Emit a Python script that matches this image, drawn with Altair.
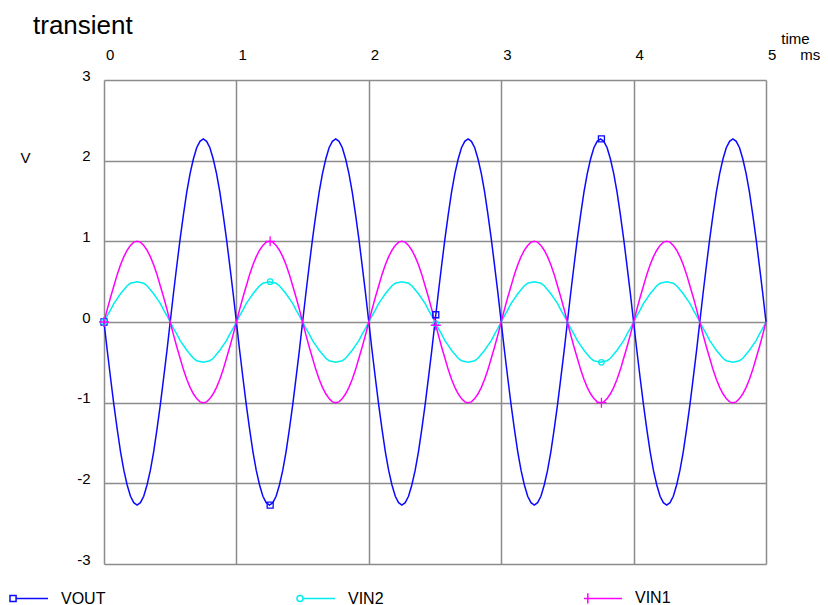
import altair as alt
import pandas as pd

FONT = "Liberation Sans"
SERIES = ["VOUT", "VIN2", "VIN1"]
COLORS = ["#0a0aff", "#00eeee", "#ff00ff"]
GRID = "#8c8c8c"

X_TICKS = [0, 1, 2, 3, 4, 5]
Y_TICKS = [-3, -2, -1, 0, 1, 2, 3]

TIME_MS = [
    0.000, 0.025, 0.050, 0.075, 0.100, 0.125, 0.150, 0.175, 0.200, 0.225, 0.250, 0.275, 0.300, 0.325, 0.350, 0.375, 0.400, 0.425, 0.450, 0.475,
    0.500, 0.525, 0.550, 0.575, 0.600, 0.625, 0.650, 0.675, 0.700, 0.725, 0.750, 0.775, 0.800, 0.825, 0.850, 0.875, 0.900, 0.925, 0.950, 0.975,
    1.000, 1.025, 1.050, 1.075, 1.100, 1.125, 1.150, 1.175, 1.200, 1.225, 1.250, 1.275, 1.300, 1.325, 1.350, 1.375, 1.400, 1.425, 1.450, 1.475,
    1.500, 1.525, 1.550, 1.575, 1.600, 1.625, 1.650, 1.675, 1.700, 1.725, 1.750, 1.775, 1.800, 1.825, 1.850, 1.875, 1.900, 1.925, 1.950, 1.975,
    2.000, 2.025, 2.050, 2.075, 2.100, 2.125, 2.150, 2.175, 2.200, 2.225, 2.250, 2.275, 2.300, 2.325, 2.350, 2.375, 2.400, 2.425, 2.450, 2.475,
    2.500, 2.525, 2.550, 2.575, 2.600, 2.625, 2.650, 2.675, 2.700, 2.725, 2.750, 2.775, 2.800, 2.825, 2.850, 2.875, 2.900, 2.925, 2.950, 2.975,
    3.000, 3.025, 3.050, 3.075, 3.100, 3.125, 3.150, 3.175, 3.200, 3.225, 3.250, 3.275, 3.300, 3.325, 3.350, 3.375, 3.400, 3.425, 3.450, 3.475,
    3.500, 3.525, 3.550, 3.575, 3.600, 3.625, 3.650, 3.675, 3.700, 3.725, 3.750, 3.775, 3.800, 3.825, 3.850, 3.875, 3.900, 3.925, 3.950, 3.975,
    4.000, 4.025, 4.050, 4.075, 4.100, 4.125, 4.150, 4.175, 4.200, 4.225, 4.250, 4.275, 4.300, 4.325, 4.350, 4.375, 4.400, 4.425, 4.450, 4.475,
    4.500, 4.525, 4.550, 4.575, 4.600, 4.625, 4.650, 4.675, 4.700, 4.725, 4.750, 4.775, 4.800, 4.825, 4.850, 4.875, 4.900, 4.925, 4.950, 4.975,
    5.000,
]

VOUT = [
    0.00, -0.36, -0.70, -1.03, -1.33, -1.61, -1.84, -2.02, -2.16, -2.24, -2.27, -2.24, -2.16, -2.02, -1.84, -1.61, -1.33, -1.03, -0.70, -0.36,
    0.00, 0.36, 0.70, 1.03, 1.33, 1.61, 1.84, 2.02, 2.16, 2.24, 2.27, 2.24, 2.16, 2.02, 1.84, 1.61, 1.33, 1.03, 0.70, 0.36,
    0.00, -0.36, -0.70, -1.03, -1.33, -1.61, -1.84, -2.02, -2.16, -2.24, -2.27, -2.24, -2.16, -2.02, -1.84, -1.61, -1.33, -1.03, -0.70, -0.36,
    0.00, 0.36, 0.70, 1.03, 1.33, 1.61, 1.84, 2.02, 2.16, 2.24, 2.27, 2.24, 2.16, 2.02, 1.84, 1.61, 1.33, 1.03, 0.70, 0.36,
    0.00, -0.36, -0.70, -1.03, -1.33, -1.61, -1.84, -2.02, -2.16, -2.24, -2.27, -2.24, -2.16, -2.02, -1.84, -1.61, -1.33, -1.03, -0.70, -0.36,
    0.00, 0.36, 0.70, 1.03, 1.33, 1.61, 1.84, 2.02, 2.16, 2.24, 2.27, 2.24, 2.16, 2.02, 1.84, 1.61, 1.33, 1.03, 0.70, 0.36,
    0.00, -0.36, -0.70, -1.03, -1.33, -1.61, -1.84, -2.02, -2.16, -2.24, -2.27, -2.24, -2.16, -2.02, -1.84, -1.61, -1.33, -1.03, -0.70, -0.36,
    0.00, 0.36, 0.70, 1.03, 1.33, 1.61, 1.84, 2.02, 2.16, 2.24, 2.27, 2.24, 2.16, 2.02, 1.84, 1.61, 1.33, 1.03, 0.70, 0.36,
    0.00, -0.36, -0.70, -1.03, -1.33, -1.61, -1.84, -2.02, -2.16, -2.24, -2.27, -2.24, -2.16, -2.02, -1.84, -1.61, -1.33, -1.03, -0.70, -0.36,
    0.00, 0.36, 0.70, 1.03, 1.33, 1.61, 1.84, 2.02, 2.16, 2.24, 2.27, 2.24, 2.16, 2.02, 1.84, 1.61, 1.33, 1.03, 0.70, 0.36,
    0.00,
]

VIN2 = [
    0.00, 0.08, 0.15, 0.23, 0.29, 0.35, 0.40, 0.45, 0.48, 0.49, 0.50, 0.49, 0.48, 0.45, 0.40, 0.35, 0.29, 0.23, 0.15, 0.08,
    0.00, -0.08, -0.15, -0.23, -0.29, -0.35, -0.40, -0.45, -0.48, -0.49, -0.50, -0.49, -0.48, -0.45, -0.40, -0.35, -0.29, -0.23, -0.15, -0.08,
    0.00, 0.08, 0.15, 0.23, 0.29, 0.35, 0.40, 0.45, 0.48, 0.49, 0.50, 0.49, 0.48, 0.45, 0.40, 0.35, 0.29, 0.23, 0.15, 0.08,
    0.00, -0.08, -0.15, -0.23, -0.29, -0.35, -0.40, -0.45, -0.48, -0.49, -0.50, -0.49, -0.48, -0.45, -0.40, -0.35, -0.29, -0.23, -0.15, -0.08,
    0.00, 0.08, 0.15, 0.23, 0.29, 0.35, 0.40, 0.45, 0.48, 0.49, 0.50, 0.49, 0.48, 0.45, 0.40, 0.35, 0.29, 0.23, 0.15, 0.08,
    0.00, -0.08, -0.15, -0.23, -0.29, -0.35, -0.40, -0.45, -0.48, -0.49, -0.50, -0.49, -0.48, -0.45, -0.40, -0.35, -0.29, -0.23, -0.15, -0.08,
    0.00, 0.08, 0.15, 0.23, 0.29, 0.35, 0.40, 0.45, 0.48, 0.49, 0.50, 0.49, 0.48, 0.45, 0.40, 0.35, 0.29, 0.23, 0.15, 0.08,
    0.00, -0.08, -0.15, -0.23, -0.29, -0.35, -0.40, -0.45, -0.48, -0.49, -0.50, -0.49, -0.48, -0.45, -0.40, -0.35, -0.29, -0.23, -0.15, -0.08,
    0.00, 0.08, 0.15, 0.23, 0.29, 0.35, 0.40, 0.45, 0.48, 0.49, 0.50, 0.49, 0.48, 0.45, 0.40, 0.35, 0.29, 0.23, 0.15, 0.08,
    0.00, -0.08, -0.15, -0.23, -0.29, -0.35, -0.40, -0.45, -0.48, -0.49, -0.50, -0.49, -0.48, -0.45, -0.40, -0.35, -0.29, -0.23, -0.15, -0.08,
    0.00,
]

VIN1 = [
    0.00, 0.16, 0.31, 0.45, 0.59, 0.71, 0.81, 0.89, 0.95, 0.99, 1.00, 0.99, 0.95, 0.89, 0.81, 0.71, 0.59, 0.45, 0.31, 0.16,
    0.00, -0.16, -0.31, -0.45, -0.59, -0.71, -0.81, -0.89, -0.95, -0.99, -1.00, -0.99, -0.95, -0.89, -0.81, -0.71, -0.59, -0.45, -0.31, -0.16,
    0.00, 0.16, 0.31, 0.45, 0.59, 0.71, 0.81, 0.89, 0.95, 0.99, 1.00, 0.99, 0.95, 0.89, 0.81, 0.71, 0.59, 0.45, 0.31, 0.16,
    0.00, -0.16, -0.31, -0.45, -0.59, -0.71, -0.81, -0.89, -0.95, -0.99, -1.00, -0.99, -0.95, -0.89, -0.81, -0.71, -0.59, -0.45, -0.31, -0.16,
    0.00, 0.16, 0.31, 0.45, 0.59, 0.71, 0.81, 0.89, 0.95, 0.99, 1.00, 0.99, 0.95, 0.89, 0.81, 0.71, 0.59, 0.45, 0.31, 0.16,
    0.00, -0.16, -0.31, -0.45, -0.59, -0.71, -0.81, -0.89, -0.95, -0.99, -1.00, -0.99, -0.95, -0.89, -0.81, -0.71, -0.59, -0.45, -0.31, -0.16,
    0.00, 0.16, 0.31, 0.45, 0.59, 0.71, 0.81, 0.89, 0.95, 0.99, 1.00, 0.99, 0.95, 0.89, 0.81, 0.71, 0.59, 0.45, 0.31, 0.16,
    0.00, -0.16, -0.31, -0.45, -0.59, -0.71, -0.81, -0.89, -0.95, -0.99, -1.00, -0.99, -0.95, -0.89, -0.81, -0.71, -0.59, -0.45, -0.31, -0.16,
    0.00, 0.16, 0.31, 0.45, 0.59, 0.71, 0.81, 0.89, 0.95, 0.99, 1.00, 0.99, 0.95, 0.89, 0.81, 0.71, 0.59, 0.45, 0.31, 0.16,
    0.00, -0.16, -0.31, -0.45, -0.59, -0.71, -0.81, -0.89, -0.95, -0.99, -1.00, -0.99, -0.95, -0.89, -0.81, -0.71, -0.59, -0.45, -0.31, -0.16,
    0.00,
]

# marker positions (time in ms) and values
MARK_TIME = [0.000, 1.255, 2.506, 3.757]
VOUT_MARKS = [0.00, -2.27, 0.09, 2.27]
VIN2_MARKS = [0.00, 0.50, -0.02, -0.50]
VIN1_MARKS = [0.00, 1.00, -0.04, -1.00]

MARKER_SHAPES = ["square", "circle", "M-1,0H1M0,-1V1"]
MARKER_SIZES = [36, 30, 100]
LEGEND_SHAPES = [
    "M-1,-0.16H-0.68V0.16H-1Z M-0.68,0H1",
    "M-1,0A0.16,0.16 0 1,0 -0.68,0A0.16,0.16 0 1,0 -1,0Z M-0.68,0H1",
    "M-1,0H1 M-0.8,-0.27V0.27",
]

line_df = pd.concat(
    [pd.DataFrame({"series": s, "time": TIME_MS, "value": v}) for s, v in zip(SERIES, [VOUT, VIN2, VIN1])],
    ignore_index=True,
)
mark_df = pd.concat(
    [pd.DataFrame({"series": s, "time": MARK_TIME, "value": v}) for s, v in zip(SERIES, [VOUT_MARKS, VIN2_MARKS, VIN1_MARKS])],
    ignore_index=True,
)

NBSP = "\u00a0"
THIN = "\u2009"
x_scale = alt.Scale(domain=[0, 5], nice=False, zero=False)
y_scale = alt.Scale(domain=[-3, 3], nice=False, zero=False)
color_scale = alt.Scale(domain=SERIES, range=COLORS)

x_axis = alt.Axis(
    orient="top", values=X_TICKS, grid=True, ticks=False, tickSize=0, domain=False,
    labelFlush=False, labelOverlap=False, labelAlign="left", labelOffset=1.5, labelBaseline="middle",
    labelPadding=26, labelFontSize=15, labelColor="black", labelFont=FONT,
    labelExpr="datum.value == 5 ? '5" + NBSP * 5 + THIN + "ms' : '' + datum.value",
    title="time", titleX=691, titleY=-42, titleAngle=0, titleAlign="center", titleBaseline="middle",
    titleFontSize=15, titleFontWeight="normal", titleColor="black", titleFont=FONT,
)
y_axis = alt.Axis(
    values=Y_TICKS, grid=True, ticks=False, tickSize=0, domain=False,
    labelFlush=False, labelOverlap=False, labelPadding=14, labelOffset=-5, labelFontSize=15,
    labelColor="black", labelFont=FONT, labelExpr="'' + datum.value",
    title="V", titleX=-79, titleY=77, titleAngle=0, titleAlign="center", titleBaseline="middle",
    titleFontSize=15, titleFontWeight="normal", titleColor="black", titleFont=FONT,
)

base_x = alt.X("time:Q", scale=x_scale, axis=x_axis)
base_y = alt.Y("value:Q", scale=y_scale, axis=y_axis)

layers = []
for s in SERIES:
    layers.append(
        alt.Chart(line_df).transform_filter(alt.datum.series == s).mark_line(strokeWidth=1.5).encode(
            x=base_x, y=base_y,
            color=alt.Color("series:N", scale=color_scale),
        )
    )
for s, shp, sz in zip(SERIES, MARKER_SHAPES, MARKER_SIZES):
    layers.append(
        alt.Chart(mark_df).transform_filter(alt.datum.series == s).mark_point(
            shape=shp, size=sz, filled=False, strokeWidth=1.3, opacity=1
        ).encode(
            x=base_x, y=base_y,
            color=alt.Color("series:N", scale=color_scale),
        )
    )

legend_props = dict(
    orient="none", legendX=-95, legendY=498, direction="horizontal", columns=3, gridAlign="all",
    columnPadding=187, symbolSize=1444, symbolStrokeWidth=1.5, symbolOpacity=1,
    labelFontSize=16, labelFont=FONT, labelColor="black", labelOffset=12, title=None,
    padding=0, symbolOffset=0, symbolType="stroke",
)
legend_layer = alt.Chart(mark_df).mark_point(filled=False, opacity=0).encode(
    x=base_x, y=base_y,
    color=alt.Color("series:N", scale=color_scale, legend=alt.Legend(**legend_props)),
    shape=alt.Shape("series:N", scale=alt.Scale(domain=SERIES, range=LEGEND_SHAPES), legend=alt.Legend(**legend_props)),
)
layers.append(legend_layer)

chart = alt.layer(*layers).properties(
    width=662,
    height=484,
    padding={"left": 96, "top": 72, "right": 54, "bottom": 41},
    autosize=alt.AutoSizeParams(type="none"),
    title=alt.TitleParams(
        "transient", anchor="start", frame="group", fontSize=26, fontWeight="normal",
        font=FONT, color="black", dx=-71, dy=8, offset=0,
    ),
).configure(font=FONT).configure_view(stroke=None).configure_axis(
    gridColor=GRID, gridWidth=1.5, gridOpacity=1
)

chart.save("out.html", embed_options={"renderer": "svg", "actions": False})
